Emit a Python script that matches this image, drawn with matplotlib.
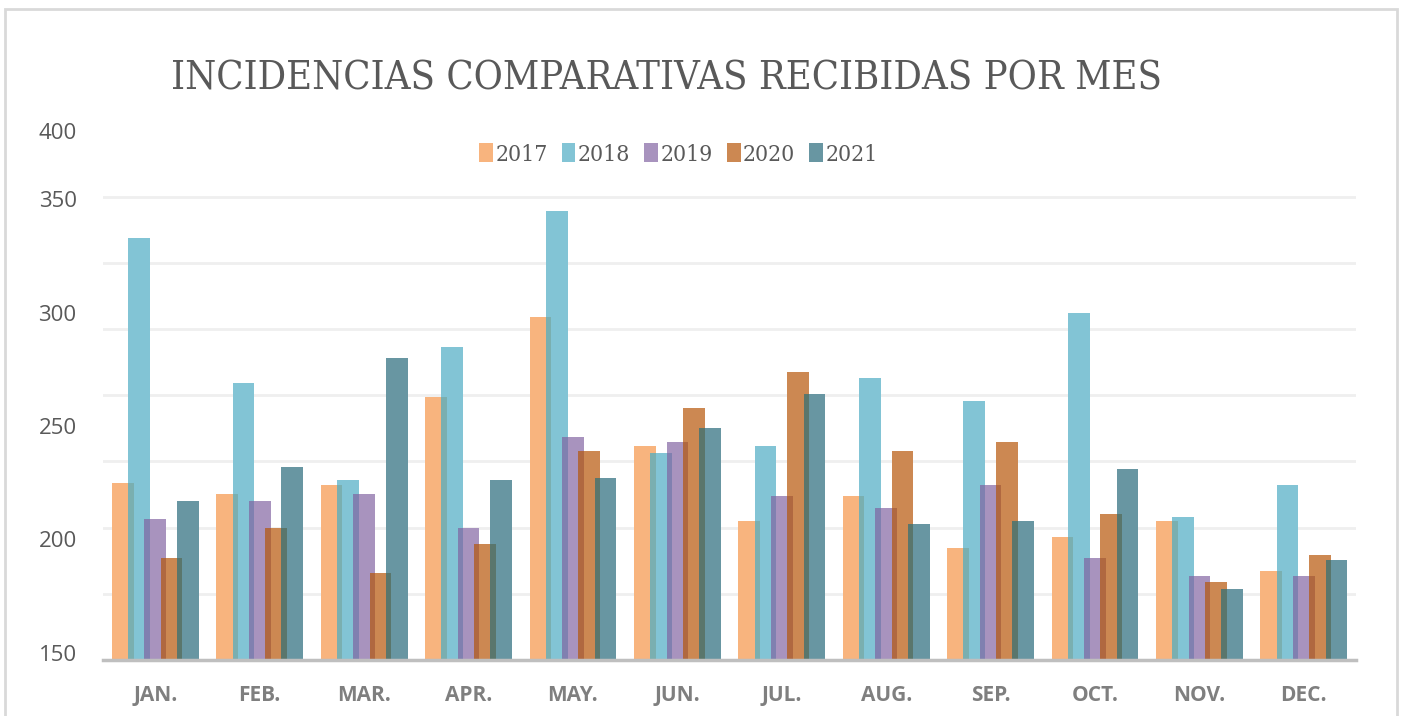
import matplotlib.pyplot as plt
import numpy as np
from matplotlib.patches import Rectangle, Patch

months = ['JAN.', 'FEB.', 'MAR.', 'APR.', 'MAY.', 'JUN.', 'JUL.', 'AUG.', 'SEP.', 'OCT.', 'NOV.', 'DEC.']
years = ['2017', '2018', '2019', '2020', '2021']

v2017 = [225, 220, 224, 263, 298, 241, 208, 219, 196, 201, 208, 186]
v2018 = [333, 269, 226, 285, 345, 238, 241, 271, 261, 300, 210, 224]
v2019 = [209, 217, 220, 205, 245, 243, 219, 214, 224, 192, 184, 184]
v2020 = [192, 205, 185, 198, 239, 258, 274, 239, 243, 211, 181, 193]
v2021 = [217, 232, 280, 226, 227, 249, 264, 207, 208, 231, 178, 191]

y_ticks = [150, 200, 250, 300, 350, 380.4]
y_ticklabels = ['150', '200', '250', '300', '350', '400']

colors = ['#F8B47E', '#82C4D5', '#A893BE', '#CC8852', '#6896A2']
# darker tone where a bar sits on top of the previous one
overlap_colors = ['#7AAFB0', '#8080B0', '#B06840', '#5A766C']

series = [v2017, v2018, v2019, v2020, v2021]
y_lo, y_hi = 146.8, 380.4
w = 0.208
step = 0.156

fig = plt.figure(figsize=(14.06, 7.16), dpi=100)
ax = fig.add_axes([0.0733, 0.0782, 0.8912, 0.7395])

x = np.arange(len(months))
for i, vals in enumerate(series):
    off = (i - 2) * step
    ax.bar(x + off, vals, width=w, color=colors[i], zorder=2 + i)
    if i > 0:
        prev = series[i - 1]
        h = np.minimum(np.array(prev), np.array(vals))
        ax.bar(x + off - step / 2, h, width=w - step, color=overlap_colors[i - 1], zorder=2 + i + 0.5)

ax.set_xlim(-0.5, 11.5)
ax.set_ylim(y_lo, y_hi)
ax.set_xticks(x)
ax.set_xticklabels(months, fontfamily='Open Sans', fontweight='bold', fontsize=15, color='#7F7F7F')
ax.set_yticks(y_ticks)
ax.set_yticklabels(y_ticklabels, fontfamily='Open Sans', fontsize=16, color='#595959')
ax.set_yticks(np.linspace(y_lo, y_hi, 9), minor=True)
ax.tick_params(axis='both', which='both', length=0)
ax.tick_params(axis='x', pad=18)
ax.tick_params(axis='y', pad=19)
ax.grid(which='minor', axis='y', color='#EFEFEF', lw=2, zorder=0)
ax.grid(which='major', visible=False)
for s in ['top', 'left', 'right']:
    ax.spines[s].set_visible(False)
ax.spines['bottom'].set_color('#BFBFBF')
ax.spines['bottom'].set_linewidth(2.5)
ax.spines['bottom'].set_zorder(10)

fig.text(0.474, 0.89, 'INCIDENCIAS COMPARATIVAS RECIBIDAS POR MES', ha='center', va='center',
         fontfamily='DejaVu Serif', fontstretch='condensed', fontsize=28.5, color='#595959')

handles = [Patch(facecolor=c, edgecolor='none') for c in colors]
fig.legend(handles, years, loc='center', bbox_to_anchor=(0.4825, 0.784), ncol=5, frameon=False,
           handlelength=0.6, handleheight=0.9, handletextpad=0.1, columnspacing=0.62,
           prop={'family': 'DejaVu Serif', 'stretch': 'condensed', 'size': 16.5}, labelcolor='#595959')

fig.patches.append(Rectangle((5 / 1406, -0.05), 1392 / 1406, 1.05 - 9 / 716, transform=fig.transFigure,
                             fill=False, edgecolor='#D9D9D9', lw=2))

fig.savefig('out.png', dpi=100)
